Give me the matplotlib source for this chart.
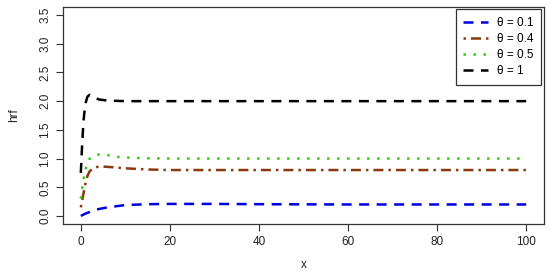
import matplotlib
matplotlib.use("Agg")
import matplotlib.pyplot as plt

plt.rcParams['font.family'] = ['Liberation Sans', 'DejaVu Sans']

# Data
x_b = [0, 1, 2, 3, 4, 6, 8, 10, 15, 20, 30, 40, 60, 80, 100]
y_01 = [0.0, 0.04, 0.07, 0.10, 0.12, 0.15, 0.17, 0.19, 0.205, 0.21, 0.21, 0.205, 0.2, 0.2, 0.2]

x_o = [0, 0.5, 1, 1.5, 2, 3, 4, 5, 7, 10, 15, 20, 30, 50, 100]
y_04 = [0.15, 0.35, 0.55, 0.70, 0.78, 0.84, 0.86, 0.86, 0.85, 0.83, 0.81, 0.80, 0.80, 0.80, 0.80]

x_g = [0, 0.5, 1, 1.5, 2, 3, 4, 6, 8, 12, 20, 30, 50, 100]
y_05 = [0.30, 0.60, 0.80, 0.93, 1.00, 1.05, 1.07, 1.06, 1.03, 1.01, 1.0, 1.0, 1.0, 1.0]

x_k = [0, 0.3, 0.6, 1, 1.5, 2, 3, 4, 6, 10, 20, 50, 100]
y_1 = [0.75, 1.25, 1.65, 1.95, 2.08, 2.11, 2.07, 2.03, 2.01, 2.0, 2.0, 2.0, 2.0]

labels = ["θ = 0.1", "θ = 0.4", "θ = 0.5", "θ = 1"]
xticks = [0, 20, 40, 60, 80, 100]
yticks = [0.0, 0.5, 1.0, 1.5, 2.0, 2.5, 3.0, 3.5]

fig = plt.figure(figsize=(5.5, 2.79), dpi=100)
ax = fig.add_axes([63/550, 1 - 224/279, (544 - 63)/550, (224 - 7)/279])

lw = 1.8
ax.plot(x_b, y_01, color='#0000DD', lw=lw, dashes=(4, 3), label=labels[0])
ax.plot(x_o, y_04, color='#8B3A0F', lw=lw, dashes=(1, 2, 4, 2), label=labels[1])
ax.plot(x_g, y_05, color='#33CC11', lw=lw, dashes=(1, 3), label=labels[2])
ax.plot(x_k, y_1, color='black', lw=lw, dashes=(4, 3), label=labels[3])

ax.set_xlim(-4, 104)
ax.set_ylim(-0.14, 3.64)
ax.set_xticks(xticks)
ax.set_xticklabels([str(v) for v in xticks])
ax.set_yticks(yticks)
ax.set_yticklabels([f"{v:.1f}" for v in yticks], rotation=90, va='center')
ax.tick_params(labelsize=8.5, length=5, width=0.8, color='#333333', labelcolor='#222222')
for s in ax.spines.values():
    s.set_linewidth(0.9)
    s.set_color('#333333')

ax.set_xlabel("x", fontsize=8.5, color='#222222', labelpad=8)
ax.set_ylabel("hrf", fontsize=8.5, color='#222222', labelpad=14)

leg = ax.legend(loc='upper right', bbox_to_anchor=(0.9938, 0.9908), fontsize=8.5,
                frameon=True, fancybox=False, edgecolor='black',
                handlelength=2.1, handletextpad=0.75, borderpad=0.65,
                labelspacing=0.35, borderaxespad=0.0)
leg.get_frame().set_linewidth(0.9)

fig.savefig("out.png", dpi=100)
